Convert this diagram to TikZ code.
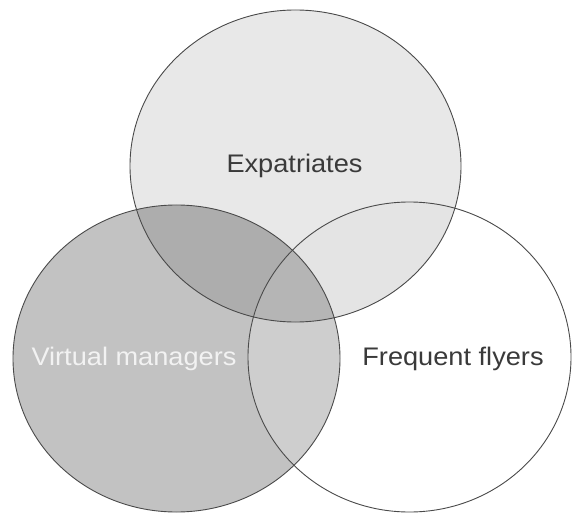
\documentclass[tikz,border=0pt]{standalone}
\usepackage{fontspec}
\setmainfont{Liberation Sans}
\definecolor{expfill}{HTML}{E8E8E8}
\definecolor{vmfill}{HTML}{C2C2C2}
\definecolor{expvm}{HTML}{ADADAD}
\definecolor{expff}{HTML}{E4E4E4}
\definecolor{vmff}{HTML}{CECECE}
\definecolor{triple}{HTML}{B5B5B5}
\definecolor{edge}{HTML}{4A4A4A}
\definecolor{darktext}{HTML}{3A3A3A}
\definecolor{lighttext}{HTML}{F2F2F2}
\begin{document}
\begin{tikzpicture}[x=1bp,y=-1bp,
  outline/.style={draw=edge,line width=0.9bp},
  lbl/.style={anchor=base,inner sep=0pt,font=\fontsize{25.5}{30}\selectfont}]
\useasboundingbox (0,0) rectangle (572,515);
\fill[white] (0,0) rectangle (572,515);
\coordinate (E) at (295.5,166);
\coordinate (V) at (176.5,358.5);
\coordinate (F) at (409.5,357);
\def\expP{(E) ellipse [x radius=165.5bp, y radius=156bp]}
\def\vmP{(V) ellipse [x radius=163.5bp, y radius=153.5bp]}
\def\ffP{(F) ellipse [x radius=161.5bp, y radius=155bp]}
% region fills
\fill[expfill] \expP;
\fill[vmfill] \vmP;
\begin{scope}
  \clip \vmP;
  \fill[expvm] \expP;
\end{scope}
\begin{scope}
  \clip \ffP;
  \fill[white] \ffP;
  \fill[expff] \expP;
  \fill[vmff] \vmP;
  \clip \vmP;
  \fill[triple] \expP;
\end{scope}
% outlines
\draw[outline] \expP;
\draw[outline] \vmP;
\draw[outline] \ffP;
% labels
\node[lbl,text=darktext] (tE) at (294.5,173) {\scalebox{1.07}[1]{Expatriates}};
\node[lbl,text=lighttext] (tV) at (134,365) {\scalebox{1.07}[1]{Virtual managers}};
\node[lbl,text=darktext] (tF) at (453,365) {\scalebox{1.07}[1]{Frequent flyers}};
\end{tikzpicture}
\end{document}
